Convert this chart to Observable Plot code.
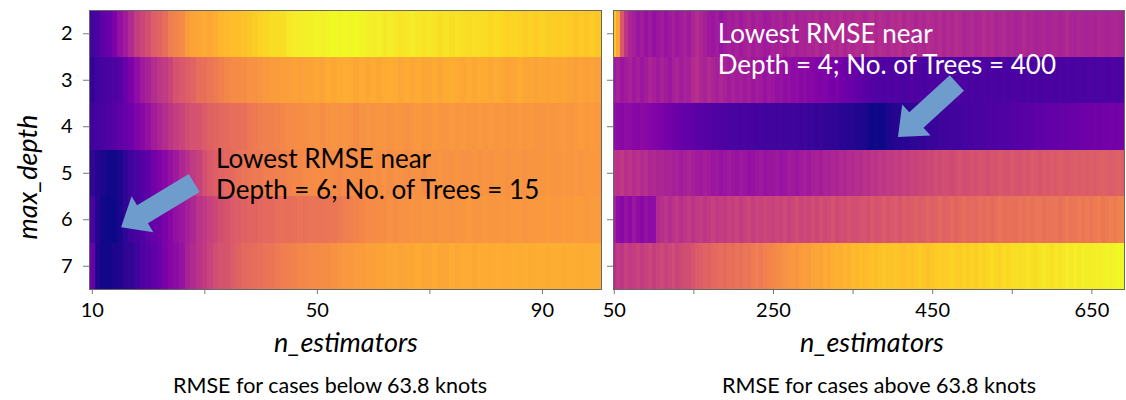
<!DOCTYPE html>
<html>
<head>
<meta charset="utf-8">
<script src="https://cdn.jsdelivr.net/npm/d3@7"></script>
<script src="https://cdn.jsdelivr.net/npm/@observablehq/plot@0.6"></script>
<style>
  body { margin: 0; background: #fff; }
  #fig { position: relative; width: 1126px; height: 400px; overflow: hidden; font-family: Lato, "Open Sans", sans-serif; color: #000; }
  #fig .panel { position: absolute; top: 0; }
  #fig .lbl { position: absolute; white-space: nowrap; transform: translate(-50%, -50%); line-height: 1; }
  #fig .axis-title { font-style: italic; font-size: 27px; }
  #fig .caption { font-size: 21.5px; }
  #fig g[aria-label$="axis tick"] { stroke: #777; }
</style>
</head>
<body>
<div id="fig">
  <div class="lbl axis-title" style="left:26px; top:177px; transform: translate(-50%, -50%) rotate(-90deg);">max_depth</div>
  <div class="lbl axis-title" style="left:346px; top:341px;">n_estimators</div>
  <div class="lbl axis-title" style="left:872px; top:341px;">n_estimators</div>
  <div class="lbl caption" style="left:330px; top:386px;">RMSE for cases below 63.8 knots</div>
  <div class="lbl caption" style="left:879px; top:386px;">RMSE for cases above 63.8 knots</div>
</div>
<script>
// Grid-search results: relative RMSE (0 = lowest, 100 = highest within each panel)
const depths = [2, 3, 4, 5, 6, 7];

// Left panel: n_estimators 10, 11, ..., 100
const belowStart = 10, belowStep = 1;
const below2 = [10,12,17,20,24,31,35,40,47,50, 53,58,60,63,68,70,72,77,79,80, 81,80,82,84,85,86,86,87,88,90, 91,92,93,93,94,96,97,97,98,98, 99,98,99,100,99,100,99,100,99,98, 97,98,96,97,96,95,96,97,96,95, 96,95,94,95,94,95,94,93,94,93, 93,92,93,92,91,92,91,90,91,90, 91,90,90,89,90,89,88,89,88,89, 88];
const below3 = [7,9,11,12,13,15,20,24,30,34, 37,41,44,46,49,54,56,58,60,63, 64,66,67,69,71,72,72,73,74,74, 75,76,77,77,78,78,79,78,79,79, 80,79,81,80,81,82,81,80,81,80, 81,80,81,82,81,80,81,80,81,80, 80,81,80,81,82,81,80,81,80,81, 81,80,81,80,79,80,81,80,80,79, 80,79,80,79,80,79,78,79,78,79, 78];
const below4 = [9,11,12,14,15,17,19,21,25,28, 31,35,38,41,44,47,49,52,54,55, 57,59,60,61,62,63,63,64,66,67, 68,69,69,70,71,72,72,73,73,74, 74,73,74,75,74,75,74,73,74,75, 74,75,75,74,75,75,74,75,76,75, 75,76,75,75,76,75,76,75,75,76, 75,76,75,76,75,75,76,75,76,75, 75,76,75,76,76,75,76,77,76,77, 76];
const below5 = [6,4,2,1,1,2,6,9,12,15, 17,22,25,28,31,34,39,42,45,48, 53,56,58,60,61,62,64,65,66,67, 67,68,68,69,69,70,71,71,72,72, 73,72,73,72,71,72,73,73,72,73, 74,73,74,73,74,74,73,74,74,73, 74,74,75,74,74,75,74,74,75,74, 75,74,75,75,74,75,75,74,75,75, 75,76,75,75,76,75,76,75,76,76, 76];
const below6 = [12,4,1,0,0,2,6,9,11,14, 17,19,21,24,28,31,33,36,39,43, 45,48,50,53,55,57,58,59,60,60, 61,62,62,63,64,63,64,65,64,65, 65,65,66,66,67,68,69,70,71,72, 72,73,73,74,73,74,74,75,74,75, 75,74,75,75,74,75,75,76,75,75, 76,75,75,76,75,76,76,75,76,76, 76,77,76,76,77,76,77,77,76,77, 77];
const below7 = [20,3,1,1,2,3,6,7,9,13, 15,17,20,24,27,29,32,37,40,43, 46,49,52,54,55,57,59,61,62,63, 64,65,66,67,68,69,70,71,71,72, 72,73,73,74,75,76,76,77,77,78, 78,79,79,80,80,79,80,80,81,80, 80,81,80,80,81,80,81,81,80,81, 81,81,82,81,81,82,81,82,81,82, 82,81,82,82,81,82,82,81,82,82, 82];

// Right panel: n_estimators 50, 55, ..., 690
const aboveStart = 50, aboveStep = 5;
const above2 = [88,80,56,44,38,36,33,35,32,34, 31,33,35,32,34,36,33,35,37,34, 38,41,39,36,34,33,35,32,34,36, 35,37,34,36,38,35,37,36,34,35, 37,36,38,35,37,39,36,38,37,39, 38,40,37,39,38,40,39,41,38,40, 39,41,40,38,40,42,39,41,40,39, 41,40,42,39,41,40,38,40,39,41, 40,39,41,38,40,39,41,40,38,39, 40,38,39,41,39,40,38,39,40,38, 39,37,38,40,38,39,37,38,39,37, 38,39,37,38,40,38,37,39,38,37, 38,37,39,38,37,38,39,38,37];
const above3 = [34,36,33,35,37,34,36,33,35,38, 36,34,37,35,33,36,38,35,37,36, 40,42,39,37,40,38,36,39,37,35, 37,35,36,34,36,33,35,34,32,34, 33,31,32,30,31,29,30,28,29,27, 27,26,25,26,24,23,24,22,21,20, 19,18,17,16,15,15,14,14,13,14, 13,14,13,12,13,14,13,13,12,13, 13,12,13,13,12,13,12,13,13,12, 13,12,12,13,12,13,12,12,13,12, 12,13,12,12,13,12,13,12,12,13, 12,12,13,12,13,12,12,13,12,13, 13,12,13,13,12,13,13,12,13];
const above4 = [30,29,28,30,29,28,27,29,28,27, 26,25,24,23,22,21,20,19,18,18, 17,16,16,15,15,14,14,13,13,12, 12,12,11,12,11,11,10,11,10,10, 10,9,10,9,9,10,9,8,9,8, 8,7,8,7,7,6,6,5,5,4, 4,3,3,2,1,0,1,0,1,2, 3,4,4,5,5,6,6,7,7,8, 8,8,9,9,9,10,10,10,11,11, 11,12,12,12,13,13,13,14,14,14, 15,15,15,16,16,16,17,17,17,18, 18,18,19,19,19,20,20,20,21,21, 21,22,21,22,22,23,22,23,23];
const above5 = [44,43,45,42,44,41,43,40,42,39, 40,38,39,37,38,36,37,35,36,38, 36,35,34,36,35,33,34,32,33,34, 33,32,34,33,31,32,33,34,32,33, 33,34,32,33,35,34,33,35,36,34, 36,37,35,38,37,39,38,40,39,41, 40,42,41,43,42,44,43,45,44,46, 45,47,46,48,47,49,48,50,49,51, 50,52,51,53,52,51,53,54,52,53, 54,53,55,54,53,55,54,56,55,54, 56,55,54,56,55,57,56,55,57,56, 57,56,58,57,56,57,58,57,58,57, 58,57,58,59,58,57,58,59,58];
const above6 = [36,30,28,32,29,33,30,28,31,29, 30,40,42,44,41,43,45,42,44,46, 43,45,47,44,46,48,45,47,46,48, 47,49,46,48,50,47,49,48,50,49, 48,50,49,51,48,50,52,49,51,50, 52,50,53,51,52,54,51,53,52,54, 53,52,54,55,53,56,54,55,57,55, 56,57,55,58,56,57,59,57,58,60, 58,59,61,59,60,62,60,61,63,61, 62,61,63,62,64,62,63,65,63,64, 64,63,65,64,66,64,65,66,64,65, 65,66,64,65,67,65,66,67,66,67, 66,67,68,66,67,68,67,69,70];
const above7 = [42,46,44,48,45,47,49,46,48,50, 47,49,51,48,50,52,49,51,53,52, 55,57,58,60,59,61,62,63,62,64, 63,65,64,66,65,67,68,67,69,70, 71,72,73,74,75,76,75,77,78,77, 79,80,79,81,80,82,83,82,84,83, 85,84,86,85,86,87,86,87,88,87, 87,88,87,86,88,87,88,89,88,87, 88,89,90,89,90,91,90,89,91,90, 91,90,92,91,92,93,92,91,93,92, 93,94,93,94,95,94,93,95,96,95, 94,96,95,96,97,96,97,96,98,97, 97,98,97,98,99,98,99,100,100];

// Axis ticks (every other one is labelled)
const belowTicks = [10, 30, 50, 70, 90];
const belowLabels = [10, 50, 90];
const aboveTicks = [50, 150, 250, 350, 450, 550, 650];
const aboveLabels = [50, 250, 450, 650];

// Annotations
const noteBelow = {n: 32, depth: 5.0, text: "Lowest RMSE near\nDepth = 6; No. of Trees = 15"};
const noteAbove = {n: 180, depth: 2.31, text: "Lowest RMSE near\nDepth = 4; No. of Trees = 400"};
const arrowBelow = {fromN: 28.2, fromDepth: 5.22, toN: 15.2, toDepth: 6.17};
const arrowAbove = {fromN: 481, fromDepth: 3.07, toN: 407, toDepth: 4.23};

const FONT = 'Lato, "Open Sans", sans-serif';
const ARROW_COLOR = "#6e9dcd";

function toCells(rows, start, step) {
  return rows.flatMap((vals, r) => vals.map((v, i) => ({depth: depths[r], n: start + i * step, v, step})));
}

// Filled block arrow drawn in the plot's own coordinates
function blockArrow(a) {
  return (index, scales) => {
    const x0 = scales.x(a.fromN), y0 = scales.y(a.fromDepth);
    const x1 = scales.x(a.toN), y1 = scales.y(a.toDepth);
    const L = Math.hypot(x1 - x0, y1 - y0);
    const ux = (x1 - x0) / L, uy = (y1 - y0) / L, px = -uy, py = ux;
    const sw = 10.5, hw = 21, hl = 25;
    const bx = x1 - ux * hl, by = y1 - uy * hl;
    const pts = [
      [x0 + px * sw, y0 + py * sw], [bx + px * sw, by + py * sw], [bx + px * hw, by + py * hw],
      [x1, y1],
      [bx - px * hw, by - py * hw], [bx - px * sw, by - py * sw], [x0 - px * sw, y0 - py * sw]
    ];
    return d3.create("svg:path")
      .attr("d", "M" + pts.map(p => p.join(",")).join("L") + "Z")
      .attr("fill", ARROW_COLOR)
      .node();
  };
}

function heatmap({rows, start, step, xDomain, ticks, labels, showY, width, marginLeft, marginRight, note, noteColor, arrow}) {
  return Plot.plot({
    width, height: 330,
    marginLeft, marginRight, marginTop: 10, marginBottom: 41,
    style: {fontFamily: FONT, fontSize: "20px", color: "#000", background: "transparent", overflow: "visible"},
    x: {domain: xDomain, ticks, tickFormat: d => labels.includes(d) ? String(d) : "", tickSize: 5, tickPadding: 8, label: null},
    y: {domain: [1.5, 7.5], reverse: true, ticks: depths, tickSize: 6, tickPadding: 11,
        tickFormat: d => showY ? String(d) : "", label: null},
    color: {type: "linear", scheme: "plasma", domain: [0, 100]},
    marks: [
      Plot.rect(toCells(rows, start, step), {
        x1: d => d.n - d.step / 2, x2: d => d.n + d.step / 2,
        y1: d => d.depth - 0.5, y2: d => d.depth + 0.5,
        fill: "v", clip: true, shapeRendering: "crispEdges"
      }),
      Plot.frame({stroke: "#666"}),
      blockArrow(arrow),
      Plot.text([note], {x: "n", y: "depth", text: "text", textAnchor: "start", lineAnchor: "middle",
        lineHeight: 1.2, fontSize: 26, fill: noteColor})
    ]
  });
}

const left = heatmap({
  rows: [below2, below3, below4, below5, below6, below7], start: belowStart, step: belowStep,
  xDomain: [9.5, 100.5], ticks: belowTicks, labels: belowLabels, showY: true,
  width: 606, marginLeft: 89, marginRight: 5, note: noteBelow, noteColor: "#000", arrow: arrowBelow
});
const right = heatmap({
  rows: [above2, above3, above4, above5, above6, above7], start: aboveStart, step: aboveStep,
  xDomain: [49, 691], ticks: aboveTicks, labels: aboveLabels, showY: false,
  width: 526, marginLeft: 13, marginRight: 2, note: noteAbove, noteColor: "#fff", arrow: arrowAbove
});

const fig = document.getElementById("fig");
left.classList.add("panel"); left.style.left = "0px";
right.classList.add("panel"); right.style.left = "600px";
fig.appendChild(left);
fig.appendChild(right);
</script>
</body>
</html>
